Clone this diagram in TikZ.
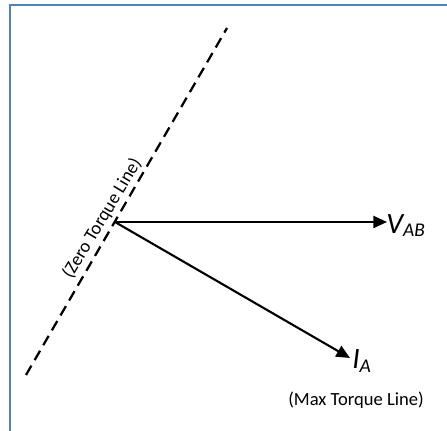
\documentclass[tikz,border=0pt]{standalone}
\usepackage{fontspec}
\setmainfont{Carlito}
\usepackage{xcolor}
\usepackage{tikz}
\usetikzlibrary{positioning,calc,arrows.meta}

\definecolor{frameblue}{HTML}{4F81BD}
\newcommand{\phasorlbl}[2]{{\fontsize{21}{23}\selectfont\itshape #1\raisebox{-2.4pt}{\fontsize{13.8}{15}\selectfont #2}}}

\begin{document}
\begin{tikzpicture}[
    x=0.025cm, y=0.025cm,
    every node/.style={font=\fontsize{13.2}{15}\selectfont, inner sep=0pt},
    phasor/.style={-{Triangle[length=3.4mm, width=3mm]}, line width=1.5pt, black},
    zeroline/.style={line width=1.6pt, dash pattern=on 2.7mm off 1.6mm},
    frame/.style={frameblue, line width=1.6pt},
]
\useasboundingbox (0,0) rectangle (447,431);

% =====================================================================
% Frame (top and left edges only)
% =====================================================================
\draw[frame] (10,0) -- (10,426) -- (447,426);

% =====================================================================
% Zero torque line through the origin
% =====================================================================
\coordinate (O) at (115,209);
\coordinate (zlo) at (26,56);
\coordinate (zhi) at (227,403);
\draw[zeroline] (zlo) -- (zhi);
% label sits just left of the dashed line, reading upwards
\node[rotate=59, anchor=south] (zlbl) at ($(O)+(-5.5,-1)$) {(Zero Torque Line)};

% =====================================================================
% Phasors
% =====================================================================
\coordinate (vtip) at (387,209);
\coordinate (itip) at (350,73);
\draw[phasor] (O) -- (vtip);
\draw[phasor] (O) -- (itip);

\node[anchor=base west] (vab) at (386,197.7) {\phasorlbl{V}{AB}};
\node[anchor=base west] (ia) at (352,62) {\phasorlbl{I}{A}};

% Max torque label under the current phasor
\node[anchor=base] (maxlbl) at (356,25.7) {(Max Torque Line)};
\end{tikzpicture}
\end{document}
